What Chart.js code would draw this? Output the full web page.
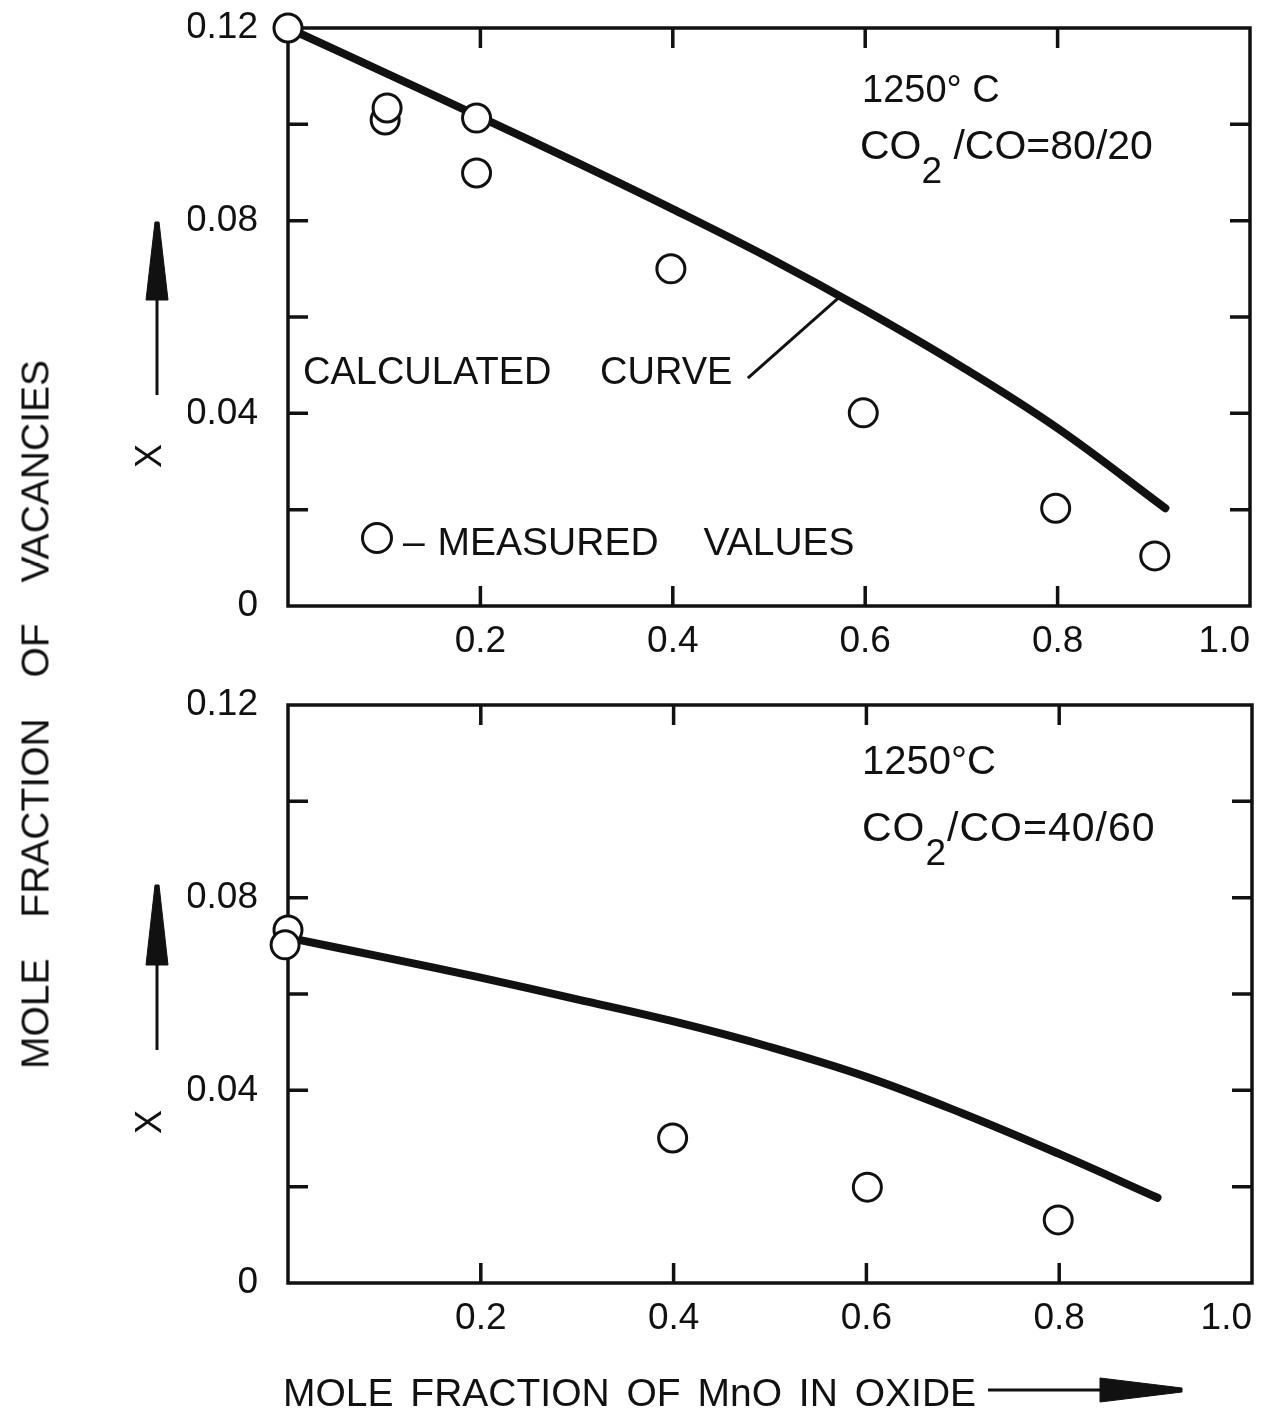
<!DOCTYPE html>
<html>
<head>
<meta charset="utf-8">
<title>Mole fraction of vacancies vs MnO</title>
<script src="https://cdn.jsdelivr.net/npm/chart.js@4.4.0/dist/chart.umd.min.js"></script>
<style>
  html, body { margin: 0; padding: 0; background: #fff; }
  body { width: 1261px; height: 1413px; position: relative; overflow: hidden;
         font-family: 'Liberation Sans', Arial, sans-serif; color: #111; }
  .panel { position: absolute; left: 0; width: 1261px; }
  #topWrap { top: 0; height: 670px; }
  #botWrap { top: 670px; height: 743px; }
  .note { position: absolute; white-space: nowrap; line-height: 1; }
  .sub { display: inline-block; position: relative; top: 24px; font-size: 37px; }
  .ring { position: absolute; width: 26px; height: 26px; border: 3px solid #111; border-radius: 50%; }
  svg.overlay { position: absolute; left: 0; top: 0; pointer-events: none; }
</style>
</head>
<body>

<div class="panel" id="topWrap"><canvas id="chartTop"></canvas></div>
<div class="panel" id="botWrap"><canvas id="chartBot"></canvas></div>

<!-- annotations, top panel -->
<div class="note" style="left:862px; top:70px; font-size:38px;">1250° C</div>
<div class="note" style="left:860px; top:125px; font-size:41px;">CO<span class="sub">2</span> /CO=80/20</div>
<div class="note" style="left:303px; top:352px; font-size:38px; word-spacing:38px;">CALCULATED CURVE</div>
<div class="ring" style="left:361px; top:522px;"></div>
<div class="note" style="left:403px; top:522px; font-size:39px; word-spacing:2px;">– MEASURED<span style="margin-left:45px">VALUES</span></div>

<!-- annotations, bottom panel -->
<div class="note" style="left:862px; top:740px; font-size:40px;">1250°C</div>
<div class="note" style="left:862px; top:807px; font-size:41px; letter-spacing:1px;">CO<span class="sub">2</span>/CO=40/60</div>

<!-- axis titles -->
<div class="note" style="left:-325px; top:695px; width:720px; text-align:center; font-size:39px; word-spacing:30px; transform:rotate(-90deg);">MOLE FRACTION OF VACANCIES</div>
<div class="note" style="left:137px; top:438px; font-size:36px; transform:rotate(-90deg);">X</div>
<div class="note" style="left:137px; top:1104px; font-size:36px; transform:rotate(-90deg);">X</div>
<div class="note" style="left:283px; top:1373px; font-size:39px; word-spacing:6px;">MOLE FRACTION OF MnO IN OXIDE</div>

<svg class="overlay" width="1261" height="1413">
  <g fill="#111" stroke="#111">
    <line x1="157" y1="298" x2="157" y2="395" stroke-width="3"/>
    <polygon points="155,222 159,222 168,300 146,300" stroke-width="1"/>
    <line x1="157" y1="963" x2="157" y2="1050" stroke-width="3"/>
    <polygon points="155,885 159,885 168,965 146,965" stroke-width="1"/>
    <line x1="988" y1="1390" x2="1102" y2="1390" stroke-width="3"/>
    <polygon points="1100,1378 1100,1402 1182,1392 1182,1388" stroke-width="1"/>
  </g>
</svg>

<script>
/* Values (x = mole fraction MnO, y = vacancy fraction). */

// tick labels that are printed on the axes
const xTickLabels = ['0.2', '0.4', '0.6', '0.8', '1.0'];
const yTickLabels = ['0', '0.04', '0.08', '0.12'];

// upper panel: CO2/CO = 80/20
const topMeasuredX = [0, 0.101, 0.103, 0.196, 0.196, 0.398, 0.598, 0.798, 0.901];
const topMeasuredY = [0.120, 0.1009, 0.1034, 0.1013, 0.0899, 0.0700, 0.0401, 0.0203, 0.0104];
const topCurveX = [0, 0.1, 0.2, 0.3, 0.4, 0.5, 0.6, 0.7, 0.8, 0.912];
const topCurveY = [0.120, 0.1108, 0.1015, 0.0921, 0.0824, 0.0723, 0.0614, 0.0497, 0.0369, 0.0203];
const leaderX = [0.478, 0.572];   // "CALCULATED CURVE" pointer
const leaderY = [0.0473, 0.0639];

// lower panel: CO2/CO = 40/60
const botMeasuredX = [0, -0.003, 0.399, 0.601, 0.799];
const botMeasuredY = [0.0733, 0.0702, 0.0301, 0.0199, 0.0131];
const botCurveX = [0, 0.1, 0.2, 0.3, 0.4, 0.5, 0.6, 0.7, 0.8, 0.902];
const botCurveY = [0.0717, 0.0676, 0.0634, 0.0589, 0.0543, 0.0490, 0.0428, 0.0352, 0.0268, 0.0177];

(function () {
  'use strict';

  const INK = '#111111';
  const FONT = "'Liberation Sans', Arial, sans-serif";
  const TICK = 20;

  const xy = (xs, ys) => xs.map((x, i) => ({ x: x, y: ys[i] }));

  // box around the plot area with inward tick marks on all four sides
  const frameTicks = {
    id: 'frameTicks',
    beforeDatasetsDraw(chart) {
      const { ctx, chartArea: a, scales: { x, y } } = chart;
      const eps = 1e-9;
      ctx.save();
      ctx.strokeStyle = INK;
      ctx.lineWidth = 3.5;
      ctx.strokeRect(a.left, a.top, a.right - a.left, a.bottom - a.top);
      ctx.beginPath();
      x.ticks.forEach((t) => {
        if (t.value <= x.min + eps || t.value >= x.max - eps) return;
        const px = x.getPixelForValue(t.value);
        ctx.moveTo(px, a.bottom); ctx.lineTo(px, a.bottom - TICK);
        ctx.moveTo(px, a.top); ctx.lineTo(px, a.top + TICK);
      });
      y.ticks.forEach((t) => {
        if (t.value <= y.min + eps || t.value >= y.max - eps) return;
        const py = y.getPixelForValue(t.value);
        ctx.moveTo(a.left, py); ctx.lineTo(a.left + TICK, py);
        ctx.moveTo(a.right, py); ctx.lineTo(a.right - TICK, py);
      });
      ctx.stroke();
      ctx.restore();
    },
  };

  function xLabel(v) {
    const s = v.toFixed(1);
    return xTickLabels.includes(s) ? s : '';
  }
  function yLabel(v) {
    const s = Math.abs(v) < 1e-9 ? '0' : v.toFixed(2);
    return yTickLabels.includes(s) ? s : '';
  }

  // fixed axis boxes so the plot area lands where the figure has it
  function noPad(axis) {
    axis.paddingTop = 0;
    axis.paddingBottom = 0;
    axis.paddingLeft = 0;
    axis.paddingRight = 0;
  }

  function makePanel(id, curve, measured, extra, padding) {
    const datasets = [
      {
        type: 'scatter',
        data: measured,
        pointRadius: 14,
        pointHoverRadius: 14,
        pointBorderWidth: 3,
        pointBackgroundColor: '#fff',
        pointBorderColor: INK,
        clip: false,
        order: 0,
      },
      {
        type: 'line',
        data: curve,
        borderColor: INK,
        borderWidth: 8,
        borderCapStyle: 'round',
        borderJoinStyle: 'round',
        pointRadius: 0,
        tension: 0.4,
        fill: false,
        clip: false,
        order: 1,
      },
    ];
    if (extra) {
      datasets.push({
        type: 'line',
        data: extra,
        borderColor: INK,
        borderWidth: 3,
        pointRadius: 0,
        fill: false,
        order: 2,
      });
    }

    return new Chart(document.getElementById(id), {
      type: 'scatter',
      data: { datasets: datasets },
      options: {
        responsive: true,
        maintainAspectRatio: false,
        animation: false,
        events: [],
        layout: { padding: padding, autoPadding: false },
        plugins: { legend: { display: false }, tooltip: { enabled: false } },
        scales: {
          x: {
            type: 'linear',
            min: 0,
            max: 1,
            grid: { display: false, drawTicks: false },
            border: { display: false },
            ticks: {
              stepSize: 0.2,
              autoSkip: false,
              maxRotation: 0,
              align: 'inner',
              padding: 14,
              color: INK,
              font: { family: FONT, size: 37 },
              callback: xLabel,
            },
            afterFit: (axis) => { axis.height = 60; noPad(axis); },
          },
          y: {
            type: 'linear',
            min: 0,
            max: 0.12,
            grid: { display: false, drawTicks: false },
            border: { display: false },
            ticks: {
              stepSize: 0.02,
              autoSkip: false,
              padding: 30,
              color: INK,
              font: { family: FONT, size: 37 },
              callback: yLabel,
            },
            afterFit: (axis) => { axis.width = 100; noPad(axis); },
          },
        },
      },
      plugins: [frameTicks],
    });
  }

  function init() {
    if (typeof Chart === 'undefined') {
      setTimeout(init, 50);
      return;
    }
    Chart.defaults.font.family = FONT;
    Chart.defaults.color = INK;

    // plot area: x 288..1250, y 28..606 (page coords)
    makePanel('chartTop',
      xy(topCurveX, topCurveY),
      xy(topMeasuredX, topMeasuredY),
      xy(leaderX, leaderY),
      { left: 188, right: 11, top: 28, bottom: 4 });

    // plot area: x 288..1252, y 705..1283 (page coords)
    makePanel('chartBot',
      xy(botCurveX, botCurveY),
      xy(botMeasuredX, botMeasuredY),
      null,
      { left: 188, right: 9, top: 35, bottom: 70 });
  }

  if (document.readyState === 'loading') {
    document.addEventListener('DOMContentLoaded', init);
  } else {
    init();
  }
})();
</script>
</body>
</html>
